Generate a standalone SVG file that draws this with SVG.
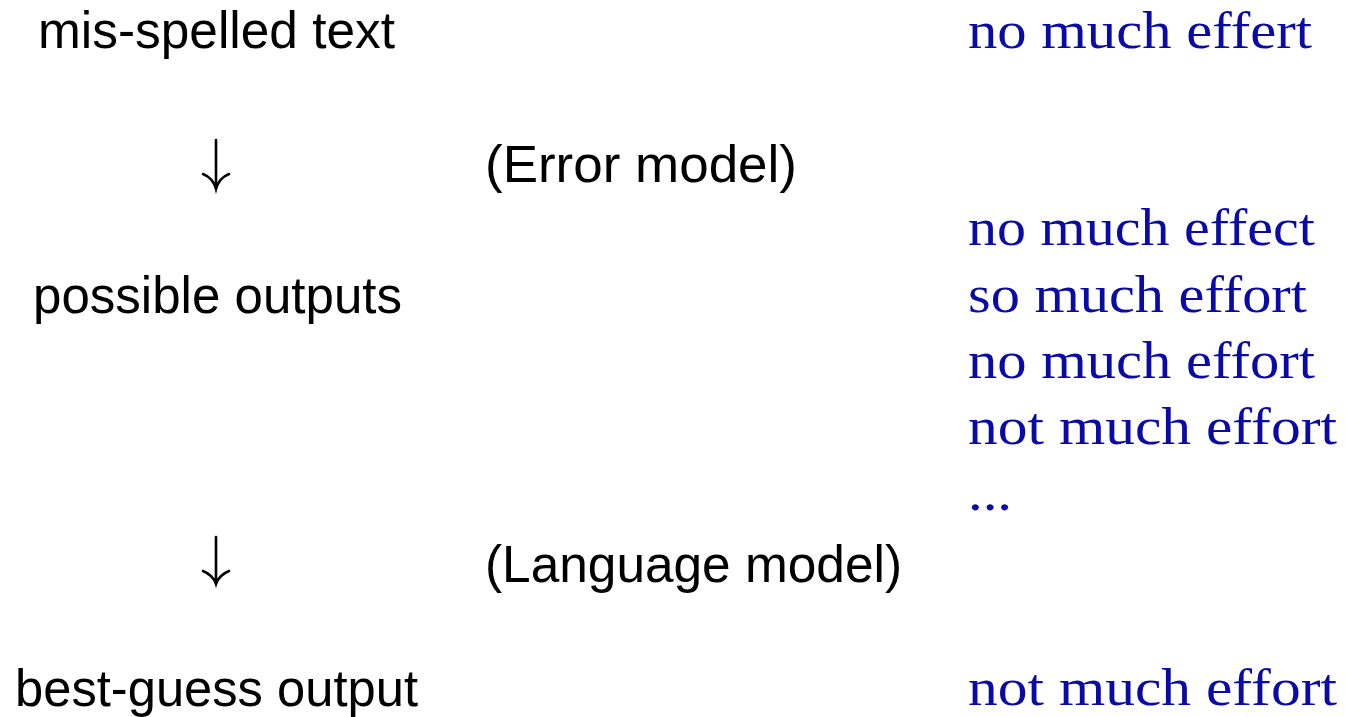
<svg xmlns="http://www.w3.org/2000/svg" width="1345" height="717" viewBox="0 0 1345 717">
<style>
.s{font-family:"Liberation Sans",Arial,sans-serif;font-size:52px;fill:#000}
.b{font-family:"Liberation Serif","Times New Roman",serif;font-size:53px;fill:#0a0aa6}
.a{fill:none;stroke:#000;stroke-width:2.6;stroke-linecap:round}
</style>
<rect width="1345" height="717" fill="#fff"/>
<g id="misspelled"><text class="s" x="38" y="48" textLength="357" lengthAdjust="spacingAndGlyphs">mis-spelled text</text></g>
<g id="error-model"><text class="s" x="485" y="182" textLength="312" lengthAdjust="spacingAndGlyphs">(Error model)</text></g>
<g id="possible"><text class="s" x="33" y="313" textLength="369" lengthAdjust="spacingAndGlyphs">possible outputs</text></g>
<g id="language-model"><text class="s" x="485" y="582" textLength="417" lengthAdjust="spacingAndGlyphs">(Language model)</text></g>
<g id="best-guess"><text class="s" x="15" y="706" textLength="403" lengthAdjust="spacingAndGlyphs">best-guess output</text></g>
<g id="examples">
<text class="b" x="968" y="48" textLength="344" lengthAdjust="spacingAndGlyphs">no much effert</text>
<text class="b" x="968" y="245" textLength="347" lengthAdjust="spacingAndGlyphs">no much effect</text>
<text class="b" x="968" y="312" textLength="339" lengthAdjust="spacingAndGlyphs">so much effort</text>
<text class="b" x="968" y="378" textLength="347" lengthAdjust="spacingAndGlyphs">no much effort</text>
<text class="b" x="968" y="444" textLength="369" lengthAdjust="spacingAndGlyphs">not much effort</text>
<text class="b" x="968" y="510" textLength="44" lengthAdjust="spacingAndGlyphs">...</text>
<text class="b" x="968" y="705" textLength="369" lengthAdjust="spacingAndGlyphs">not much effort</text>
</g>
<g id="connectors">
<path class="a" d="M216 140V189M203 174Q213 178 216 189Q219 178 229 174"/>
<path class="a" d="M216 537V584M203 571Q213 575 216 584Q219 575 229 571"/>
</g>
</svg>
